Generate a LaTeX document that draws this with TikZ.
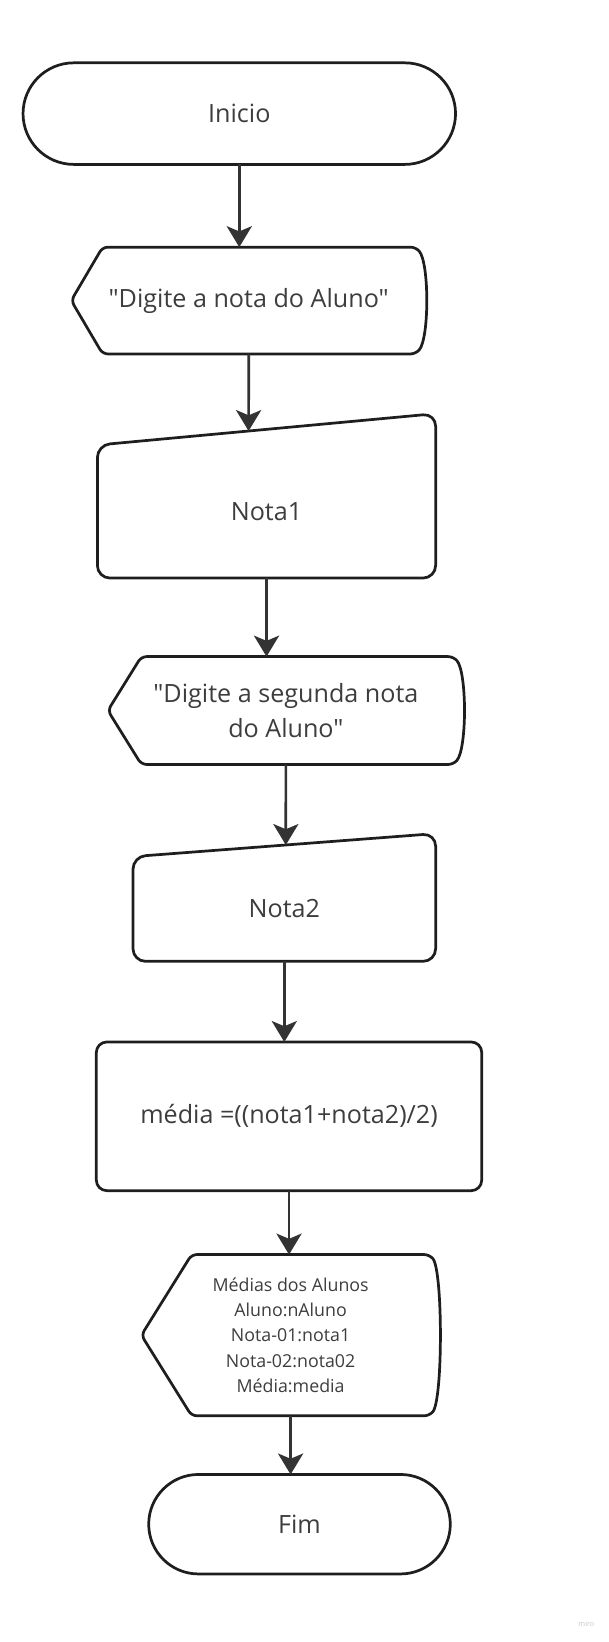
\documentclass[tikz,border=0pt]{standalone}
\usepackage{fontspec}
\setmainfont{Open Sans}[Ligatures=TeXOff]
\usetikzlibrary{arrows.meta,shapes.misc,calc}
\definecolor{ink}{HTML}{1E1E1E}
\definecolor{wire}{HTML}{333333}
\definecolor{txt}{HTML}{3D3D3D}
\tikzset{
  base/.style={inner sep=0pt, outer sep=0pt, text=txt, align=center,
    font=\fontsize{24}{33}\selectfont},
  outline/.style={draw=ink, line width=2.6pt, line join=round},
  terminal/.style={base, outline, rounded rectangle},
  process/.style={base, outline, rounded corners=10pt},
  plain/.style={base, rectangle},
  flow/.style={draw=wire, line width=2.6pt, -{Stealth[length=20pt,width=24pt,inset=5pt]}},
}
\begin{document}
\begin{tikzpicture}[x=1pt,y=-1pt]
  \useasboundingbox (0,0) rectangle (581,1568);
  \node[terminal, minimum width=413pt, minimum height=97pt] (inicio) at (228.5,108.5) {Inicio};
  \node[plain, minimum width=339pt, minimum height=102pt] (msg1) at (237.5,287) {"Digite a nota do Aluno"};
  \node[plain, minimum width=323pt, minimum height=127pt] (nota1) at (254.5,488.5) {Nota1};
  \node[plain, minimum width=340pt, minimum height=103pt] (msg2) at (273,678.5) {"Digite a segunda nota\\do Aluno"};
  \node[plain, minimum width=289pt, minimum height=100pt] (nota2) at (271.5,868) {Nota2};
  \node[process, minimum width=368pt, minimum height=142pt] (media) at (276,1066) {média =((nota1+nota2)/2)};
  \node[plain, minimum width=285pt, minimum height=154pt, font=\fontsize{17}{24}\selectfont] (msg3) at (277.5,1275)
    {Médias dos Alunos\\Aluno:nAluno\\Nota-01:nota1\\Nota-02:nota02\\Média:media};
  \node[terminal, minimum width=288pt, minimum height=95pt] (fim) at (286,1455.5) {Fim};
  \node[text=gray!45, font=\fontsize{7}{8}\selectfont, inner sep=0pt] (marca) at (560,1551) {miro};

  \foreach \n/\a in {msg1/30, msg2/32, msg3/48}
    \draw[outline, rounded corners=5pt] (\n.west) -- ([xshift=\a pt]\n.north west)
      -- ([xshift=-10pt]\n.north east)
      .. controls ([xshift=3pt,yshift=-15pt]\n.north east) and ([xshift=3pt,yshift=15pt]\n.south east) ..
      ([xshift=-10pt]\n.south east) -- ([xshift=\a pt]\n.south west) -- cycle;
  \foreach \n/\r in {nota1/30, nota2/22}
    \draw[outline, rounded corners=12pt] (\n.south west) -- (\n.north west)
      -- ([yshift=\r pt]\n.north east) -- (\n.south east) -- cycle;

  \coordinate (nota1top) at ($(nota1.north west)!0.447!([yshift=30pt]nota1.north east)$);
  \coordinate (nota2top) at ($(nota2.north west)!0.505!([yshift=22pt]nota2.north east)$);

  \draw[flow] (inicio.south) -- (inicio.south |- msg1.north);
  \draw[flow] (msg1.south) -- (nota1top);
  \draw[flow] (nota1.south) -- (nota1.south |- msg2.north);
  \draw[flow] (msg2.south) -- (nota2top);
  \draw[flow] (nota2.south) -- (nota2.south |- media.north);
  \draw[flow] (media.south) -- (media.south |- msg3.north);
  \draw[flow] (msg3.south) -- (msg3.south |- fim.north);
\end{tikzpicture}
\end{document}
